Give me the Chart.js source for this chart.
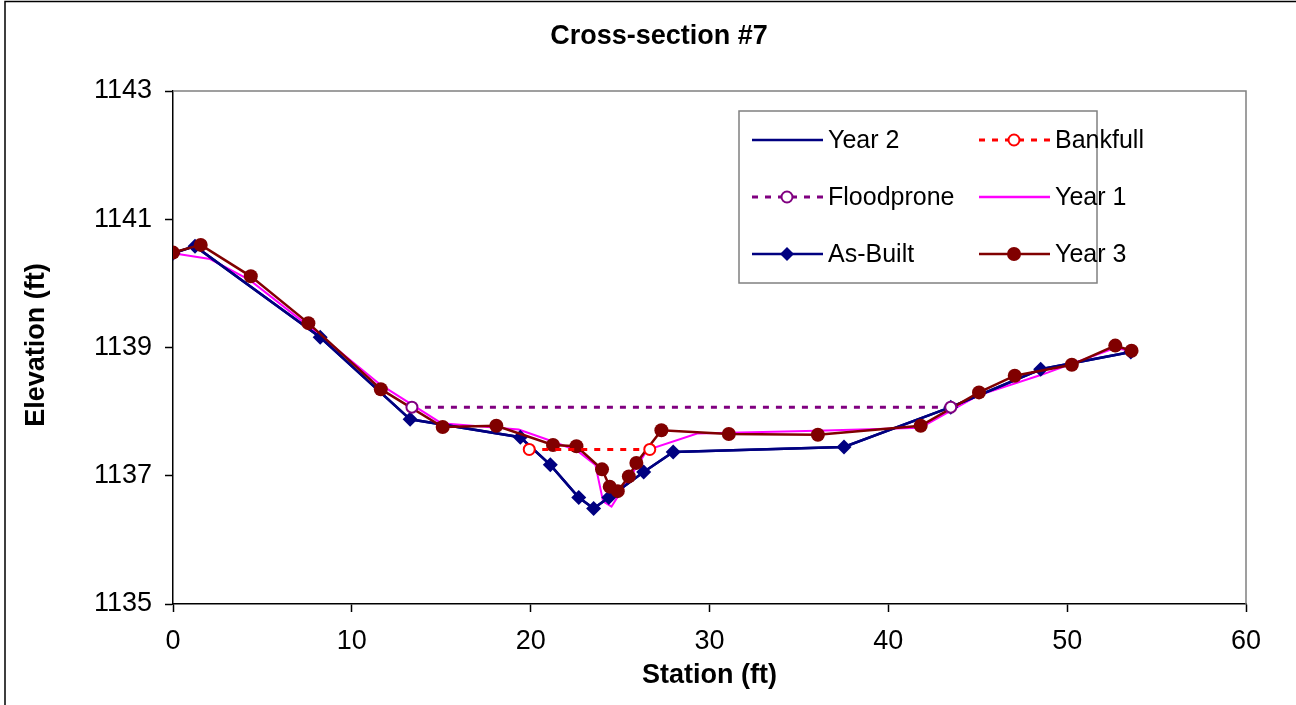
<!DOCTYPE html>
<html>
<head>
<meta charset="utf-8">
<script src="https://cdn.jsdelivr.net/npm/chart.js@4.4.1/dist/chart.umd.min.js"></script>
<style>
  html, body { margin: 0; padding: 0; background: #fff; }
  #wrap { position: relative; width: 1296px; height: 705px; }
</style>
</head>
<body>
<div id="wrap"><canvas id="chart" width="1296" height="705"></canvas></div>
<script>
// Cross-section #7 - station (ft) vs elevation (ft)
const asBuiltStation = [0, 1.23, 8.23, 13.26, 19.42, 21.10, 22.69, 23.52, 24.37, 26.32, 27.97, 37.52, 43.49, 48.52, 53.56]
const asBuiltElev = [1140.47, 1140.58, 1139.16, 1137.88, 1137.60, 1137.17, 1136.66, 1136.49, 1136.66, 1137.06, 1137.37, 1137.45, 1138.07, 1138.66, 1138.93]

// Year 2 plots right on top of the as-built line
const year2Station = [0, 1.23, 8.23, 13.26, 19.42, 21.10, 22.69, 23.52, 24.37, 26.32, 27.97, 37.52, 43.49, 48.52, 53.56]
const year2Elev = [1140.47, 1140.58, 1139.16, 1137.88, 1137.60, 1137.17, 1136.66, 1136.49, 1136.66, 1137.06, 1137.37, 1137.45, 1138.07, 1138.66, 1138.93]

const year1Station = [0, 2.07, 4.3, 7.6, 11.6, 15.0, 19.33, 21.28, 22.6, 23.62, 24.05, 24.52, 25.0, 26.51, 29.31, 36.0, 41.8, 45.0, 48.52, 52.67, 53.6]
const year1Elev = [1140.47, 1140.38, 1140.05, 1139.33, 1138.42, 1137.82, 1137.72, 1137.53, 1137.39, 1137.17, 1136.60, 1136.52, 1136.73, 1137.40, 1137.66, 1137.70, 1137.75, 1138.25, 1138.57, 1138.99, 1138.95]

const year3Station = [0, 1.55, 4.35, 7.57, 11.62, 15.08, 18.08, 21.25, 22.56, 23.99, 24.42, 24.87, 25.49, 25.91, 27.31, 31.08, 36.06, 41.81, 45.07, 47.07, 50.26, 52.69, 53.60]
const year3Elev = [1140.48, 1140.60, 1140.11, 1139.38, 1138.35, 1137.76, 1137.78, 1137.48, 1137.46, 1137.10, 1136.83, 1136.76, 1136.99, 1137.20, 1137.71, 1137.65, 1137.64, 1137.78, 1138.30, 1138.56, 1138.73, 1139.03, 1138.95]

const bankfullStation = [19.92, 26.66]
const bankfullElev = [1137.41, 1137.41]

const floodproneStation = [13.36, 43.49]
const floodproneElev = [1138.07, 1138.07]

const stationTicks = [0, 10, 20, 30, 40, 50, 60]
const elevTicks = [1135, 1137, 1139, 1141, 1143]

const FONT = "'Liberation Sans', Arial, sans-serif"
const colors = {
  navy: '#000080',
  magenta: '#FF00FF',
  maroon: '#800000',
  red: '#FF0000',
  purple: '#800080'
}

const toPoints = (xs, ys) => xs.map((x, i) => ({ x: x, y: ys[i] }))

// legend entries in the order Excel lays them out (2 columns x 3 rows)
const legendItems = [
  { label: 'Year 2', color: colors.navy, dash: [], marker: null },
  { label: 'Bankfull', color: colors.red, dash: [6, 7], marker: 'hollow' },
  { label: 'Floodprone', color: colors.purple, dash: [6, 7], marker: 'hollow' },
  { label: 'Year 1', color: colors.magenta, dash: [], marker: null },
  { label: 'As-Built', color: colors.navy, dash: [], marker: 'diamond' },
  { label: 'Year 3', color: colors.maroon, dash: [], marker: 'dot' }
]

function drawMarker(ctx, kind, x, y, color) {
  ctx.save()
  ctx.setLineDash([])
  if (kind === 'hollow') {
    ctx.beginPath()
    ctx.arc(x, y, 5.5, 0, Math.PI * 2)
    ctx.fillStyle = '#fff'
    ctx.fill()
    ctx.lineWidth = 2
    ctx.strokeStyle = color
    ctx.stroke()
  } else if (kind === 'diamond') {
    ctx.beginPath()
    ctx.moveTo(x, y - 7)
    ctx.lineTo(x + 7, y)
    ctx.lineTo(x, y + 7)
    ctx.lineTo(x - 7, y)
    ctx.closePath()
    ctx.fillStyle = color
    ctx.fill()
  } else if (kind === 'dot') {
    ctx.beginPath()
    ctx.arc(x, y, 7, 0, Math.PI * 2)
    ctx.fillStyle = color
    ctx.fill()
  }
  ctx.restore()
}

const decorations = {
  id: 'decorations',
  beforeDraw(chart) {
    const ctx = chart.ctx
    ctx.save()
    ctx.fillStyle = '#fff'
    ctx.fillRect(0, 0, chart.width, chart.height)
    ctx.restore()
  },
  afterDatasetsDraw(chart) {
    const ctx = chart.ctx
    const a = chart.chartArea
    ctx.save()

    // plot frame: grey top and right edges
    ctx.strokeStyle = '#808080'
    ctx.lineWidth = 1.5
    ctx.beginPath()
    ctx.moveTo(a.left, a.top)
    ctx.lineTo(a.right, a.top)
    ctx.lineTo(a.right, a.bottom)
    ctx.stroke()

    // outer chart border (left and top only are inside the picture)
    ctx.strokeStyle = '#000'
    ctx.lineWidth = 1.5
    ctx.beginPath()
    ctx.moveTo(5, chart.height)
    ctx.lineTo(5, 1.5)
    ctx.lineTo(chart.width, 1.5)
    ctx.stroke()

    // title and axis titles
    ctx.fillStyle = '#000'
    ctx.textAlign = 'center'
    ctx.textBaseline = 'middle'
    ctx.font = 'bold 27px ' + FONT
    ctx.fillText('Cross-section #7', 659, 37)
    ctx.fillText('Station (ft)', (a.left + a.right) / 2, 676)
    ctx.save()
    ctx.translate(37, 345)
    ctx.rotate(-Math.PI / 2)
    ctx.fillText('Elevation (ft)', 0, 0)
    ctx.restore()

    // legend box
    ctx.fillStyle = '#fff'
    ctx.fillRect(739, 111, 358, 172)
    ctx.strokeStyle = '#808080'
    ctx.lineWidth = 1.5
    ctx.strokeRect(739, 111, 358, 172)

    const colX = [752, 979]
    const rowY = [140, 197, 254]
    ctx.font = '25px ' + FONT
    ctx.textAlign = 'left'
    legendItems.forEach((item, i) => {
      const x = colX[i % 2]
      const y = rowY[Math.floor(i / 2)]
      ctx.save()
      ctx.strokeStyle = item.color
      ctx.lineWidth = item.dash.length ? 3 : 2.5
      ctx.setLineDash(item.dash)
      ctx.beginPath()
      ctx.moveTo(x, y)
      ctx.lineTo(x + 71, y)
      ctx.stroke()
      ctx.restore()
      if (item.marker) drawMarker(ctx, item.marker, x + 35, y, item.color)
      ctx.fillStyle = '#000'
      ctx.fillText(item.label, x + 76, y + 1)
    })

    ctx.restore()
  }
}

const ctx = document.getElementById('chart').getContext('2d')

new Chart(ctx, {
  type: 'line',
  data: {
    datasets: [
      {
        label: 'Bankfull',
        data: toPoints(bankfullStation, bankfullElev),
        borderColor: colors.red,
        borderWidth: 3,
        borderDash: [6, 7],
        pointStyle: 'circle',
        pointRadius: 5.5,
        pointBorderWidth: 2,
        pointBorderColor: colors.red,
        pointBackgroundColor: '#fff',
        order: 0
      },
      {
        label: 'Floodprone',
        data: toPoints(floodproneStation, floodproneElev),
        borderColor: colors.purple,
        borderWidth: 3,
        borderDash: [6, 7],
        pointStyle: 'circle',
        pointRadius: 5.5,
        pointBorderWidth: 2,
        pointBorderColor: colors.purple,
        pointBackgroundColor: '#fff',
        order: 1
      },
      {
        label: 'Year 3',
        data: toPoints(year3Station, year3Elev),
        borderColor: colors.maroon,
        borderWidth: 2.5,
        pointStyle: 'circle',
        pointRadius: 7,
        pointBorderWidth: 0,
        pointBackgroundColor: colors.maroon,
        order: 2
      },
      {
        label: 'As-Built',
        data: toPoints(asBuiltStation, asBuiltElev),
        borderColor: colors.navy,
        borderWidth: 2.5,
        pointStyle: 'rectRot',
        pointRadius: 7.5,
        pointBorderWidth: 0,
        pointBackgroundColor: colors.navy,
        order: 3
      },
      {
        label: 'Year 2',
        data: toPoints(year2Station, year2Elev),
        borderColor: colors.navy,
        borderWidth: 2.5,
        pointRadius: 0,
        order: 4
      },
      {
        label: 'Year 1',
        data: toPoints(year1Station, year1Elev),
        borderColor: colors.magenta,
        borderWidth: 2,
        pointRadius: 0,
        order: 5
      }
    ]
  },
  options: {
    responsive: false,
    animation: false,
    devicePixelRatio: 1,
    layout: {
      padding: { top: 91, right: 50, left: 0, bottom: 0 }
    },
    plugins: {
      legend: { display: false },
      title: { display: false },
      tooltip: { enabled: false }
    },
    elements: {
      line: { tension: 0, fill: false }
    },
    scales: {
      x: {
        type: 'linear',
        min: 0,
        max: 60,
        afterFit(scale) { scale.height = 101 },
        afterBuildTicks(scale) { scale.ticks = stationTicks.map(v => ({ value: v })) },
        border: { display: true, color: '#000', width: 1.5 },
        grid: { drawOnChartArea: false, drawTicks: true, tickLength: 8, tickColor: '#000', tickWidth: 1.5 },
        ticks: {
          color: '#000',
          padding: 13,
          maxRotation: 0,
          font: { family: FONT, size: 27 }
        }
      },
      y: {
        type: 'linear',
        min: 1135,
        max: 1143,
        afterFit(scale) { scale.width = 173 },
        afterBuildTicks(scale) { scale.ticks = elevTicks.map(v => ({ value: v })) },
        border: { display: true, color: '#000', width: 1.5 },
        grid: { drawOnChartArea: false, drawTicks: true, tickLength: 8, tickColor: '#000', tickWidth: 1.5 },
        ticks: {
          color: '#000',
          padding: 13,
          font: { family: FONT, size: 27 },
          callback: v => String(v)
        }
      }
    }
  },
  plugins: [decorations]
})
</script>
</body>
</html>
